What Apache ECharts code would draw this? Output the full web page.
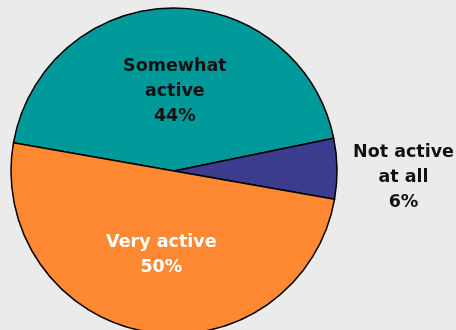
<!DOCTYPE html>
<html>
<head>
<meta charset="utf-8">
<script src="https://cdn.jsdelivr.net/npm/echarts@6/dist/echarts.min.js"></script>
<style>
  html, body { margin: 0; padding: 0; background: #ebebeb; }
  #chart { width: 456px; height: 330px; }
</style>
</head>
<body>
<div id="chart"></div>
<script>
// Activity levels, share of respondents (%)
const categories = ['Somewhat\nactive', 'Not active\nat all', 'Very active'];
const shares = [44, 6, 50];
const colors = ['#009999', '#3c3c8e', '#ff8833'];

const chart = echarts.init(document.getElementById('chart'), null, { renderer: 'canvas' });

const labelBase = {
  show: true,
  position: 'inside',
  fontFamily: 'DejaVu Sans',
  fontWeight: 'bold',
  fontSize: 17.5,
  lineHeight: 25,
  align: 'center',
  formatter: p => p.name + '\n' + p.value + '%'
};

const labelStyles = [
  { color: '#111111', offset: [2, 5] },
  { color: '#111111', offset: [145, 8] },
  { color: '#ffffff', offset: [2, 1] }
];

chart.setOption({
  backgroundColor: '#ebebeb',
  animation: false,
  series: [{
    type: 'pie',
    center: [174, 171],
    radius: 163,
    startAngle: 170,
    clockwise: true,
    avoidLabelOverlap: false,
    labelLine: { show: false },
    itemStyle: { borderColor: '#000000', borderWidth: 1.5 },
    emphasis: { disabled: true },
    data: categories.map((name, i) => ({
      name: name,
      value: shares[i],
      itemStyle: { color: colors[i] },
      label: Object.assign({}, labelBase, labelStyles[i])
    }))
  }]
});
</script>
</body>
</html>
